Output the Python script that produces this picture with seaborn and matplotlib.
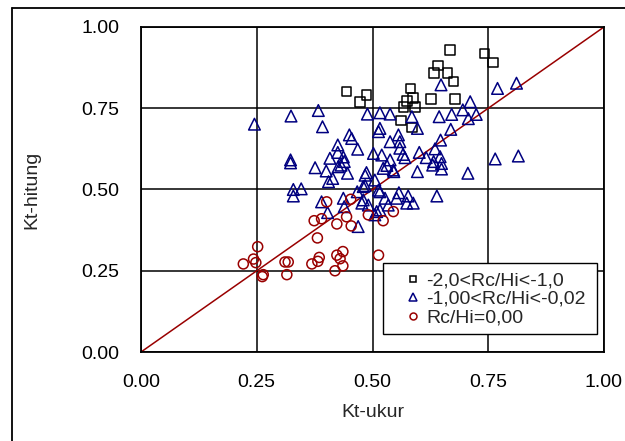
import numpy as np
import pandas as pd
import matplotlib
matplotlib.use("Agg")
import matplotlib.pyplot as plt
from matplotlib.lines import Line2D
from matplotlib.patches import Rectangle
import seaborn as sns

# Group 1: -2,0 < Rc/Hi < -1,0
sq_ukur = [0.444, 0.487, 0.473, 0.667, 0.742, 0.760, 0.642, 0.633, 0.662, 0.675,
           0.582, 0.587, 0.575, 0.567, 0.592, 0.626, 0.678, 0.561, 0.585]
sq_hitung = [0.801, 0.790, 0.769, 0.929, 0.919, 0.891, 0.881, 0.859, 0.859, 0.832,
             0.811, 0.781, 0.773, 0.753, 0.753, 0.778, 0.778, 0.712, 0.691]

# Group 2: -1,00 < Rc/Hi < -0,02
tr_ukur = [0.245, 0.324, 0.383, 0.392, 0.323, 0.323, 0.329, 0.346, 0.329, 0.376,
           0.400, 0.405, 0.414, 0.408, 0.425, 0.425, 0.432, 0.439, 0.426, 0.446,
           0.450, 0.455, 0.468, 0.437, 0.390, 0.437, 0.439, 0.403, 0.469, 0.487,
           0.505, 0.480, 0.513, 0.502, 0.520, 0.523, 0.545, 0.538, 0.513, 0.516,
           0.489, 0.516, 0.538, 0.480, 0.491, 0.527, 0.509, 0.534, 0.556, 0.559,
           0.559, 0.566, 0.711, 0.695, 0.671, 0.724, 0.644, 0.707, 0.585, 0.597,
           0.669, 0.647, 0.635, 0.601, 0.616, 0.646, 0.632, 0.649, 0.570, 0.630,
           0.765, 0.648, 0.770, 0.811, 0.815, 0.706, 0.639, 0.597, 0.546, 0.557,
           0.577, 0.588, 0.484, 0.484, 0.467, 0.516, 0.552, 0.574, 0.477, 0.516,
           0.505, 0.531, 0.538, 0.649]
tr_hitung = [0.701, 0.726, 0.743, 0.693, 0.591, 0.582, 0.500, 0.502, 0.480, 0.567,
             0.557, 0.524, 0.534, 0.596, 0.637, 0.614, 0.575, 0.586, 0.570, 0.550,
             0.668, 0.657, 0.624, 0.600, 0.462, 0.473, 0.447, 0.429, 0.386, 0.552,
             0.529, 0.509, 0.498, 0.611, 0.606, 0.565, 0.560, 0.647, 0.678, 0.688,
             0.732, 0.736, 0.732, 0.468, 0.452, 0.473, 0.432, 0.452, 0.668, 0.647,
             0.627, 0.608, 0.770, 0.745, 0.731, 0.731, 0.724, 0.718, 0.724, 0.688,
             0.685, 0.652, 0.625, 0.614, 0.598, 0.601, 0.586, 0.580, 0.598, 0.575,
             0.594, 0.822, 0.811, 0.827, 0.603, 0.550, 0.480, 0.555, 0.555, 0.490,
             0.480, 0.458, 0.544, 0.512, 0.493, 0.493, 0.473, 0.458, 0.458, 0.437,
             0.422, 0.574, 0.591, 0.563]

# Group 3: Rc/Hi = 0,00
ci_ukur = [0.401, 0.453, 0.374, 0.390, 0.423, 0.444, 0.454, 0.491, 0.523, 0.545,
           0.381, 0.252, 0.243, 0.221, 0.248, 0.264, 0.262, 0.311, 0.318, 0.315,
           0.369, 0.385, 0.382, 0.423, 0.436, 0.430, 0.436, 0.419, 0.513]
ci_hitung = [0.462, 0.470, 0.404, 0.410, 0.394, 0.416, 0.388, 0.422, 0.404, 0.432,
             0.351, 0.324, 0.286, 0.271, 0.275, 0.238, 0.232, 0.277, 0.277, 0.238,
             0.271, 0.291, 0.279, 0.298, 0.309, 0.287, 0.265, 0.250, 0.298]

labels = ["-2,0<Rc/Hi<-1,0", "-1,00<Rc/Hi<-0,02", "Rc/Hi=0,00"]
ticks = [0.0, 0.25, 0.5, 0.75, 1.0]
tick_labels = ["0.00", "0.25", "0.50", "0.75", "1.00"]

navy = "#000080"
dred = "#990000"

sns.set_style("white")
plt.rcParams["font.family"] = ["Liberation Sans", "DejaVu Sans"]

fig = plt.figure(figsize=(6.25, 4.41), dpi=100)
ax = fig.add_axes([0.2256, 0.2018, 0.7408, 0.737])

# 1:1 reference line
ax.plot([0, 1], [0, 1], color=dred, lw=1.1, zorder=2)

groups = [
    (sq_ukur, sq_hitung, "s", "black", 48),
    (tr_ukur, tr_hitung, "^", navy, 70),
    (ci_ukur, ci_hitung, "o", dred, 52),
]
for xs, ys, mk, col, size in groups:
    df = pd.DataFrame({"Kt-ukur": xs, "Kt-hitung": ys})
    sns.scatterplot(data=df, x="Kt-ukur", y="Kt-hitung", marker=mk, s=size,
                    facecolor="none", edgecolor=col, linewidth=1.1,
                    ax=ax, zorder=3, legend=False)

ax.set_xlim(0, 1)
ax.set_ylim(0, 1)
ax.set_xticks(ticks)
ax.set_yticks(ticks)
ax.set_xticklabels(tick_labels)
ax.set_yticklabels(tick_labels)
ax.tick_params(axis="both", direction="out", length=6, width=1.2,
               labelsize=14, pad=9.5, colors="black")
ax.grid(True, color="black", lw=1.1)
ax.set_axisbelow(True)
for sp in ax.spines.values():
    sp.set_color("black")
    sp.set_linewidth(1.3)

ax.set_xlabel("Kt-ukur", fontsize=14)
ax.set_ylabel("Kt-hitung", fontsize=14)
ax.xaxis.set_label_coords(0.5, -0.16)
ax.yaxis.set_label_coords(-0.218, 0.5)

# legend box
ax.add_patch(Rectangle((0.523, 0.055), 0.462, 0.219, transform=ax.transAxes,
                       facecolor="white", edgecolor="black", lw=1.0, zorder=4))

handles = [
    Line2D([], [], ls="none", marker="s", ms=5, mfc="none", mec="black", mew=1.1),
    Line2D([], [], ls="none", marker="^", ms=6, mfc="none", mec=navy, mew=1.1),
    Line2D([], [], ls="none", marker="o", ms=5, mfc="none", mec=dred, mew=1.1),
]
leg = ax.legend(handles, labels, loc="upper left", bbox_to_anchor=(0.5665, 0.247),
                fontsize=14, frameon=False, borderpad=0, labelspacing=0.05,
                handlelength=1.0, handletextpad=0.2, borderaxespad=0)
leg.set_zorder(5)

# outer chart frame
x0 = 12 / 625
y0 = 1 - 8 / 441
fig.add_artist(Line2D([x0, x0], [0, y0], color="black", lw=1.3, transform=fig.transFigure))
fig.add_artist(Line2D([x0, 1], [y0, y0], color="black", lw=1.3, transform=fig.transFigure))

fig.savefig("out.png", dpi=100)
